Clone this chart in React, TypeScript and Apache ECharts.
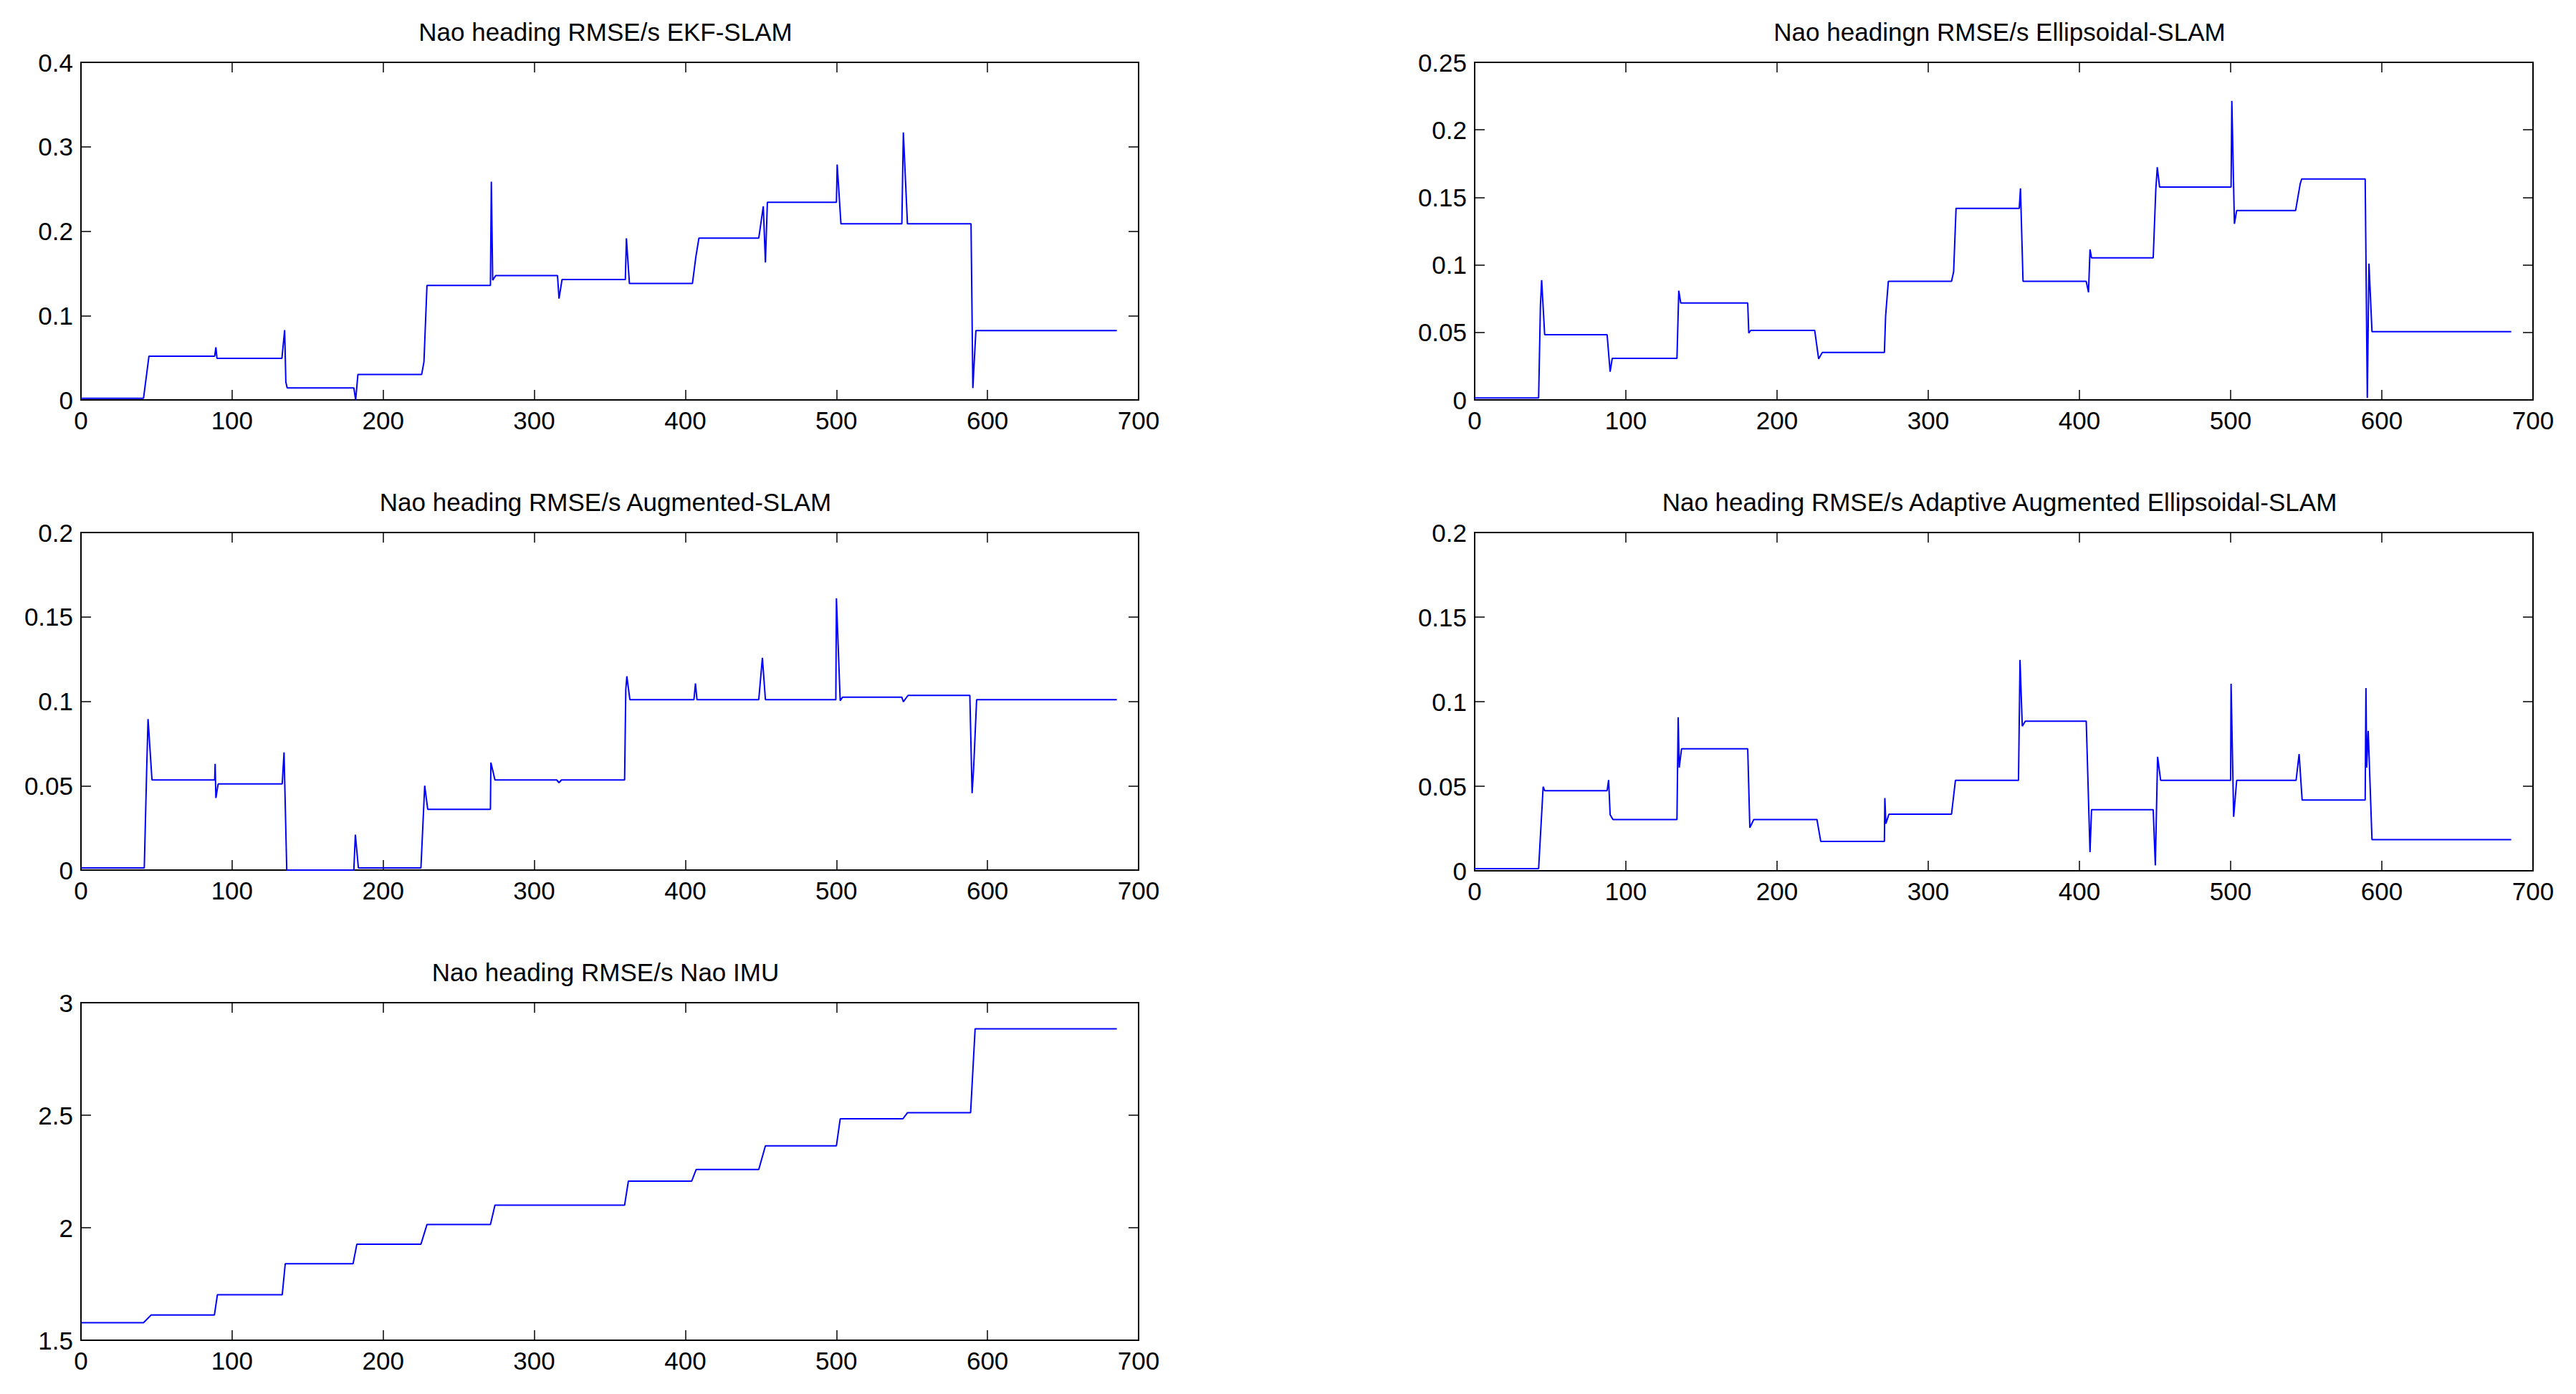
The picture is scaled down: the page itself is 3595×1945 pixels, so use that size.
import React, { useEffect, useRef } from "react";
import * as echarts from "echarts";

// ---------- data ----------
const titles = [
  "Nao heading RMSE/s EKF-SLAM",
  "Nao headingn RMSE/s Ellipsoidal-SLAM",
  "Nao heading RMSE/s Augmented-SLAM",
  "Nao heading RMSE/s Adaptive Augmented Ellipsoidal-SLAM",
  "Nao heading RMSE/s Nao IMU",
];

const ekfX = [0, 41.4, 45, 88.5, 89.3, 90, 133, 134.8, 135.6, 136.5, 180.6, 181.8, 183.3, 225.5, 227, 229, 271, 271.6, 272.5, 274.5, 315.4, 316.4, 318.4, 360.3, 361, 363, 404.7, 407, 409, 448.6, 451.6, 453, 454.3, 500, 500.5, 503, 543.3, 544.3, 547, 589.1, 590.3, 592.3, 685.6];
const ekfY = [0.002, 0.002, 0.0519, 0.0519, 0.0623, 0.0493, 0.0493, 0.0827, 0.021, 0.0143, 0.0143, 0.0, 0.0302, 0.0302, 0.045, 0.1356, 0.1356, 0.2586, 0.1418, 0.1473, 0.1473, 0.12, 0.1427, 0.1427, 0.1914, 0.1379, 0.1379, 0.17, 0.1917, 0.1917, 0.2294, 0.1629, 0.2342, 0.2342, 0.279, 0.2086, 0.2086, 0.317, 0.2086, 0.2086, 0.014, 0.0821, 0.0821];

const ellX = [0, 42.3, 43.5, 44.3, 46.3, 87.6, 89.6, 91, 133.8, 135, 136.3, 180.6, 181.3, 182.6, 224.9, 227.5, 229.9, 271, 271.8, 273.6, 315.4, 316.8, 318.4, 360.2, 361, 362.7, 404.5, 406, 407, 408, 448.8, 450.5, 451.5, 453, 500.3, 500.8, 502.5, 504, 543, 546, 547, 589, 590.4, 591.5, 593.5, 685.6];
const ellY = [0.0014, 0.0014, 0.07, 0.0888, 0.0483, 0.0483, 0.0209, 0.0308, 0.0308, 0.0809, 0.0718, 0.0718, 0.0495, 0.0515, 0.0515, 0.0304, 0.0351, 0.0351, 0.062, 0.0878, 0.0878, 0.095, 0.1419, 0.1419, 0.1567, 0.0878, 0.0878, 0.0797, 0.1115, 0.1052, 0.1052, 0.1555, 0.1723, 0.1577, 0.1577, 0.2214, 0.1304, 0.1403, 0.1403, 0.16, 0.1636, 0.1636, 0.0014, 0.101, 0.0505, 0.0505];

const augX = [0, 41.9, 43.5, 44.4, 47, 88.5, 88.8, 89.3, 90.8, 133.2, 134.4, 136.2, 180.6, 181.6, 183.6, 225, 227.5, 229.5, 271, 271.3, 274, 314.9, 316.4, 318, 359.8, 360.6, 361.3, 363.3, 405.7, 406.7, 407.7, 448.6, 451, 453, 499.6, 500, 502.5, 504, 543.3, 544.3, 547.4, 588.3, 589.8, 590.8, 592.8, 685.6];
const augY = [0.0013, 0.0013, 0.06, 0.0895, 0.0534, 0.0534, 0.0629, 0.0427, 0.0511, 0.0511, 0.0697, 0, 0, 0.021, 0.0013, 0.0013, 0.05, 0.036, 0.036, 0.0637, 0.0534, 0.0534, 0.0518, 0.0534, 0.0534, 0.107, 0.1148, 0.101, 0.101, 0.1106, 0.101, 0.101, 0.1258, 0.101, 0.101, 0.161, 0.1003, 0.1024, 0.1024, 0.0997, 0.1035, 0.1035, 0.0456, 0.06, 0.101, 0.101];

const adaX = [0, 42.3, 45.3, 46.3, 87.6, 88.6, 89.6, 91.5, 133.8, 134.6, 135.3, 136.8, 180.6, 182, 184.6, 226.4, 228.9, 271, 271.3, 272, 274, 315.4, 318, 359.7, 360.7, 362.2, 364.2, 404.5, 407, 408, 448.8, 450.2, 451.7, 453.7, 500, 500.3, 502, 504, 543.3, 545.3, 547.3, 589, 589.5, 590, 591, 593.5, 685.6];
const adaY = [0.0013, 0.0013, 0.0497, 0.0474, 0.0474, 0.0537, 0.0332, 0.0303, 0.0303, 0.0908, 0.061, 0.0721, 0.0721, 0.0255, 0.0303, 0.0303, 0.0174, 0.0174, 0.043, 0.0279, 0.0335, 0.0335, 0.0535, 0.0535, 0.1247, 0.0855, 0.0885, 0.0885, 0.011, 0.0361, 0.0361, 0.0032, 0.0674, 0.0535, 0.0535, 0.1106, 0.0319, 0.0535, 0.0535, 0.069, 0.0418, 0.0418, 0.108, 0.061, 0.0827, 0.0184, 0.0184];

const imuX = [0, 41.4, 46.4, 88.3, 90.3, 133.2, 135.2, 180.1, 182.6, 225, 229, 271, 274, 359.8, 362.3, 404.2, 407.2, 448.6, 453, 500, 502.5, 544, 547, 588.8, 591.8, 685.6];
const imuY = [1.578, 1.578, 1.612, 1.612, 1.702, 1.702, 1.84, 1.84, 1.927, 1.927, 2.014, 2.014, 2.1, 2.1, 2.207, 2.207, 2.259, 2.259, 2.364, 2.364, 2.484, 2.484, 2.511, 2.511, 2.884, 2.884];

const xMin = 0, xMax = 700, xStep = 100;
const yMins = [0, 0, 0, 0, 1.5];
const yMaxs = [0.4, 0.25, 0.2, 0.2, 3];
const ySteps = [0.1, 0.05, 0.05, 0.05, 0.5];

const seriesX = [ekfX, ellX, augX, adaX, imuX];
const seriesY = [ekfY, ellY, augY, adaY, imuY];

// ---------- layout ----------
const grids = [
  { left: 113, top: 87, width: 1476, height: 471 },
  { left: 2058, top: 87, width: 1477, height: 471 },
  { left: 113, top: 743, width: 1476, height: 471 },
  { left: 2058, top: 743, width: 1477, height: 472 },
  { left: 113, top: 1399, width: 1476, height: 471 },
];

const FONT = "'Liberation Sans', Arial, Helvetica, sans-serif";

export default function App() {
  const ref = useRef<HTMLDivElement>(null);
  useEffect(() => {
    if (!ref.current) return;
    const chart = echarts.init(ref.current, undefined, { renderer: "svg" });
    const tick = { show: true, inside: true, length: 14, lineStyle: { color: "#000", width: 1.5 } };
    const label = { color: "#000", fontSize: 35, fontFamily: FONT, margin: 11, showMinLabel: true, showMaxLabel: true };
    const xAxes: any[] = [];
    const yAxes: any[] = [];
    for (let k = 0; k < 2; k++) {
      grids.forEach((_, i) => {
        xAxes.push({
          type: "value", gridIndex: i, min: xMin, max: xMax, interval: xStep,
          position: k === 0 ? "bottom" : "top",
          axisLine: { show: false, onZero: false }, splitLine: { show: false },
          axisTick: tick, axisLabel: k === 0 ? label : { show: false },
        });
        yAxes.push({
          type: "value", gridIndex: i, min: yMins[i], max: yMaxs[i], interval: ySteps[i],
          position: k === 0 ? "left" : "right",
          axisLine: { show: false, onZero: false }, splitLine: { show: false },
          axisTick: tick, axisLabel: k === 0 ? label : { show: false },
        });
      });
    }
    chart.setOption({
      animation: false,
      backgroundColor: "#fff",
      grid: grids.map((g) => ({ ...g, show: true, borderColor: "#000", borderWidth: 2, backgroundColor: "transparent", containLabel: false })),
      xAxis: xAxes,
      yAxis: yAxes,
      series: seriesX.map((xs, i) => ({
        type: "line", xAxisIndex: i, yAxisIndex: i, showSymbol: false, symbol: "none",
        lineStyle: { color: "#0000ff", width: 2 }, clip: true,
        data: xs.map((x, j) => [x, seriesY[i][j]]),
      })),
      graphic: grids.map((g, i) => ({
        type: "text", x: g.left + g.width / 2 - 6, y: g.top - 43,
        style: { text: titles[i], fill: "#000", font: `35px ${FONT}`, textAlign: "center", textVerticalAlign: "middle", verticalAlign: "middle" },
      })),
    });
    return () => chart.dispose();
  }, []);
  return <div ref={ref} style={{ position: "fixed", left: 0, top: 0, width: 3595, height: 1945, background: "#fff" }} />;
}
